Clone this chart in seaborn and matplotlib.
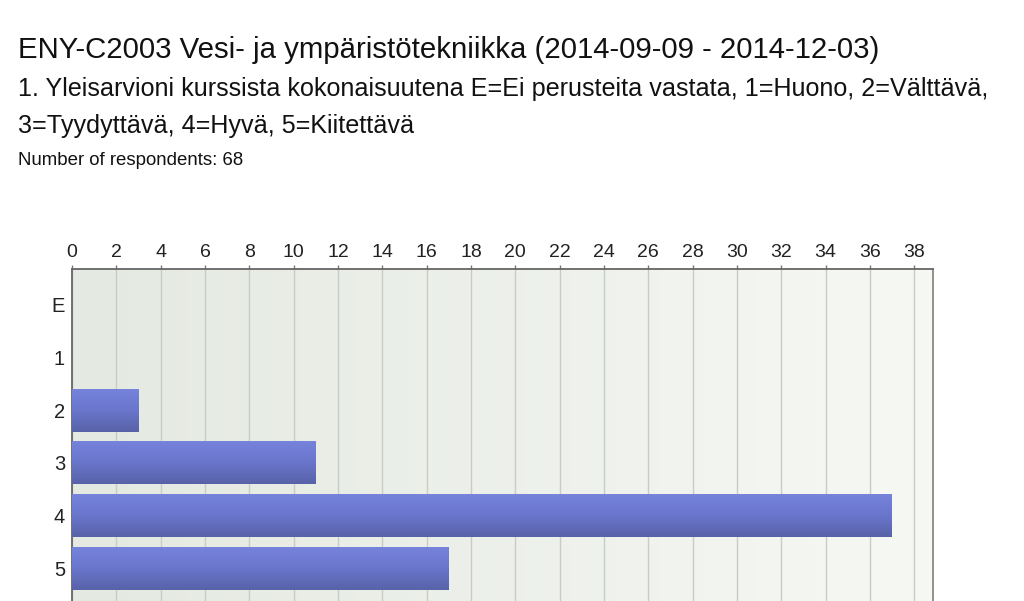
import numpy as np
import pandas as pd
import matplotlib
matplotlib.use("Agg")
import matplotlib.pyplot as plt
import seaborn as sns
from matplotlib.colors import LinearSegmentedColormap

categories = ["E", "1", "2", "3", "4", "5"]
counts = [0, 0, 3, 11, 37, 17]
xticks = list(range(0, 39, 2))

title = "ENY-C2003 Vesi- ja ympäristötekniikka (2014-09-09 - 2014-12-03)"
question_1 = "1. Yleisarvioni kurssista kokonaisuutena E=Ei perusteita vastata, 1=Huono, 2=Välttävä,"
question_2 = "3=Tyydyttävä, 4=Hyvä, 5=Kiitettävä"
respondents = "Number of respondents: 68"

sns.set_theme(style="white")
plt.rcParams["font.family"] = ["Liberation Sans", "DejaVu Sans"]

df = pd.DataFrame({"category": categories, "count": counts})

fig = plt.figure(figsize=(10.24, 6.01), dpi=100)
ax = fig.add_axes([72 / 1024, (601 - 604) / 601, (933 - 72) / 1024, (604 - 269) / 601])

sns.barplot(data=df, x="count", y="category", orient="h", ax=ax,
            color="#6470c4", width=0.82, saturation=1, zorder=3, linewidth=0)

# background gradient
bg = LinearSegmentedColormap.from_list("bg", ["#e4e9e1", "#f6f8f4"])
ax.imshow(np.linspace(0, 1, 256).reshape(1, -1), cmap=bg, aspect="auto",
          extent=[0, 1, 0, 1], transform=ax.transAxes, zorder=0)
ax.set_facecolor("none")

# bar gradients
barcmap = LinearSegmentedColormap.from_list("bar", ["#5862a8", "#6a76cc", "#7784dc"])
grad = np.linspace(0, 1, 128).reshape(-1, 1)
for p in ax.patches:
    w = p.get_width()
    if w <= 0:
        p.set_visible(False)
        continue
    x0, y0 = p.get_x(), p.get_y()
    h = p.get_height()
    im = ax.imshow(grad, cmap=barcmap, aspect="auto",
                   extent=[x0, x0 + w, y0 + h, y0], origin="lower", zorder=4)
    im.set_clip_path(p)
ax.set_xlim(0, 38.85)
ax.set_ylim(5.68, -0.68)

ax.set_xticks(xticks)
ax.xaxis.tick_top()
ax.xaxis.set_label_position("top")
ax.set_xlabel("")
ax.set_ylabel("")
ax.grid(axis="x", color="#c8ccc6", linewidth=1, zorder=1)
ax.set_axisbelow(True)
ax.tick_params(axis="x", top=True, bottom=False, direction="out", length=3,
               width=1, color="#777777", labelsize=14, labelcolor="#222222", pad=2.5)
ax.tick_params(axis="y", left=False, length=0, labelsize=14.5, labelcolor="#222222", pad=5)

for s in ["top", "left"]:
    ax.spines[s].set_color("#666666")
    ax.spines[s].set_linewidth(1.3)
ax.spines["right"].set_color("#888888")
ax.spines["right"].set_linewidth(1.3)
ax.spines["bottom"].set_visible(False)

fig.text(18 / 1024, 1 - 58 / 601, title, fontsize=21.15, color="#111111", va="baseline")
fig.text(18 / 1024, 1 - 96 / 601, question_1, fontsize=18.05, color="#111111", va="baseline")
fig.text(18 / 1024, 1 - 133 / 601, question_2, fontsize=18.05, color="#111111", va="baseline")
fig.text(18 / 1024, 1 - 165 / 601, respondents, fontsize=13.4, color="#111111", va="baseline")

fig.savefig("out.png", dpi=100)
